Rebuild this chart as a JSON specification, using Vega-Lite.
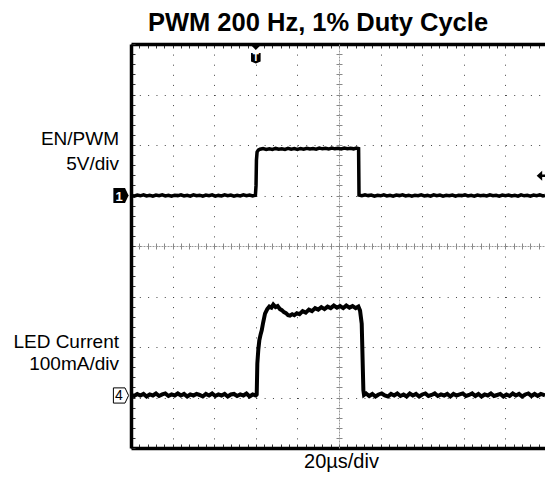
{
  "$schema": "https://vega.github.io/schema/vega-lite/v6.json",
  "width": 414,
  "height": 404,
  "autosize": {"type": "none"},
  "padding": {"left": 131, "top": 44, "right": 0, "bottom": 33},
  "background": "white",
  "title": {"text": "PWM 200 Hz, 1% Duty Cycle", "font": "Liberation Sans", "fontSize": 25.5, "fontWeight": "bold", "color": "black", "anchor": "middle", "frame": "group", "dx": -20, "offset": -13, "baseline": "alphabetic"},
  "config": {"view": {"stroke": null}, "axis": {"labels": false, "ticks": false, "domain": false, "grid": false}},
  "datasets": {
    "ch1": [
      {"t": -60, "v": 0.03}, {"t": -58.5, "v": -0.06}, {"t": -57, "v": 0.05}, {"t": -55.5, "v": -0.03}, {"t": -54, "v": 0.07}, {"t": -52.5, "v": -0.05}, {"t": -51, "v": 0.01}, {"t": -49.5, "v": -0.07}, {"t": -48, "v": 0.04}, {"t": -46.5, "v": -0.02}, {"t": -45, "v": 0.06}, {"t": -43.5, "v": -0.05}, {"t": -42, "v": 0.02}, {"t": -40.5, "v": -0.07}, {"t": -39, "v": 0.03}, {"t": -37.5, "v": -0.01}, {"t": -36, "v": 0.07}, {"t": -34.5, "v": -0.05}, {"t": -33, "v": 0.02}, {"t": -31.5, "v": -0.06}, {"t": -30, "v": 0.06}, {"t": -28.5, "v": -0.03}, {"t": -27, "v": 0.03}, {"t": -25.5, "v": -0.07}, {"t": -24, "v": 0.04}, {"t": -22.5, "v": -0.02}, {"t": -21, "v": 0.06}, {"t": -19.5, "v": -0.06}, {"t": -18, "v": 0.01}, {"t": -16.5, "v": -0.04}, {"t": -15, "v": 0.07}, {"t": -13.5, "v": -0.02}, {"t": -12, "v": 0.05}, {"t": -10.5, "v": -0.06}, {"t": -9, "v": 0.02}, {"t": -7.5, "v": -0.04}, {"t": -6, "v": 0.06}, {"t": -4.5, "v": -0.03}, {"t": -3, "v": 0.04}, {"t": -1.5, "v": -0.05}, {"t": -0.2, "v": 0.03},
      {"t": 0.1, "v": 1.0}, {"t": 0.3, "v": 3.5}, {"t": 0.6, "v": 4.3}, {"t": 1.2, "v": 4.5}, {"t": 2, "v": 4.58},
      {"t": 3.5, "v": 4.65}, {"t": 5, "v": 4.56}, {"t": 6.5, "v": 4.63}, {"t": 8, "v": 4.57}, {"t": 9.5, "v": 4.66}, {"t": 11, "v": 4.58}, {"t": 12.5, "v": 4.63}, {"t": 14, "v": 4.56}, {"t": 15.5, "v": 4.67}, {"t": 17, "v": 4.59}, {"t": 18.5, "v": 4.64}, {"t": 20, "v": 4.57}, {"t": 21.5, "v": 4.66}, {"t": 23, "v": 4.59}, {"t": 24.5, "v": 4.68}, {"t": 26, "v": 4.6}, {"t": 27.5, "v": 4.65}, {"t": 29, "v": 4.59}, {"t": 30.5, "v": 4.69}, {"t": 32, "v": 4.62}, {"t": 33.5, "v": 4.67}, {"t": 35, "v": 4.6}, {"t": 36.5, "v": 4.7}, {"t": 38, "v": 4.62}, {"t": 39.5, "v": 4.67}, {"t": 41, "v": 4.61}, {"t": 42.5, "v": 4.7}, {"t": 44, "v": 4.63}, {"t": 45.5, "v": 4.68}, {"t": 47, "v": 4.62}, {"t": 48.3, "v": 4.7}, {"t": 49.4, "v": 4.65},
      {"t": 49.6, "v": 0.03},
      {"t": 51, "v": -0.03}, {"t": 52.5, "v": 0.06}, {"t": 54, "v": -0.01}, {"t": 55.5, "v": 0.04}, {"t": 57, "v": -0.07}, {"t": 58.5, "v": 0.02}, {"t": 60, "v": -0.03}, {"t": 61.5, "v": 0.07}, {"t": 63, "v": -0.04}, {"t": 64.5, "v": 0.02}, {"t": 66, "v": -0.06}, {"t": 67.5, "v": 0.04}, {"t": 69, "v": -0.01}, {"t": 70.5, "v": 0.06}, {"t": 72, "v": -0.05}, {"t": 73.5, "v": 0.03}, {"t": 75, "v": -0.07}, {"t": 76.5, "v": 0.03}, {"t": 78, "v": -0.02}, {"t": 79.5, "v": 0.06}, {"t": 81, "v": -0.04}, {"t": 82.5, "v": 0.01}, {"t": 84, "v": -0.06}, {"t": 85.5, "v": 0.07}, {"t": 87, "v": -0.02}, {"t": 88.5, "v": 0.04}, {"t": 90, "v": -0.06}, {"t": 91.5, "v": 0.02}, {"t": 93, "v": -0.03}, {"t": 94.5, "v": 0.05}, {"t": 96, "v": -0.07}, {"t": 97.5, "v": 0.03}, {"t": 99, "v": -0.01}, {"t": 100.5, "v": 0.06}, {"t": 102, "v": -0.04}, {"t": 103.5, "v": 0.02}, {"t": 105, "v": -0.06}, {"t": 106.5, "v": 0.05}, {"t": 108, "v": -0.02}, {"t": 109.5, "v": 0.03}, {"t": 111, "v": -0.05}, {"t": 112.5, "v": 0.06}, {"t": 114, "v": -0.03}, {"t": 115.5, "v": 0.02}, {"t": 117, "v": -0.07}, {"t": 118.5, "v": 0.04}, {"t": 120, "v": -0.02}, {"t": 121.5, "v": 0.05}, {"t": 123, "v": -0.05}, {"t": 124.5, "v": 0.01}, {"t": 126, "v": -0.06}, {"t": 127.5, "v": 0.07}, {"t": 129, "v": -0.03}, {"t": 130.5, "v": 0.03}, {"t": 132, "v": -0.06}, {"t": 133.5, "v": 0.04}, {"t": 135, "v": -0.02}, {"t": 136.5, "v": 0.06}, {"t": 138, "v": -0.04}, {"t": 139, "v": 0.01}
    ],
    "ch4": [
      {"t": -60, "i": 6}, {"t": -58.5, "i": 3}, {"t": -57, "i": 7}, {"t": -55.5, "i": 4}, {"t": -54, "i": 7}, {"t": -52.5, "i": 2}, {"t": -51, "i": 6}, {"t": -49.5, "i": 4}, {"t": -48, "i": 8}, {"t": -46.5, "i": 3}, {"t": -45, "i": 6}, {"t": -43.5, "i": 8}, {"t": -42, "i": 3}, {"t": -40.5, "i": 6}, {"t": -39, "i": 4}, {"t": -37.5, "i": 8}, {"t": -36, "i": 4}, {"t": -34.5, "i": 7}, {"t": -33, "i": 2}, {"t": -31.5, "i": 6}, {"t": -30, "i": 4}, {"t": -28.5, "i": 7}, {"t": -27, "i": 5}, {"t": -25.5, "i": 2}, {"t": -24, "i": 7}, {"t": -22.5, "i": 4}, {"t": -21, "i": 8}, {"t": -19.5, "i": 3}, {"t": -18, "i": 6}, {"t": -16.5, "i": 4}, {"t": -15, "i": 7}, {"t": -13.5, "i": 2}, {"t": -12, "i": 6}, {"t": -10.5, "i": 7}, {"t": -9, "i": 3}, {"t": -7.5, "i": 6}, {"t": -6, "i": 4}, {"t": -4.5, "i": 8}, {"t": -3, "i": 2}, {"t": -1.5, "i": 6}, {"t": 0, "i": 4},
      {"t": 0.43, "i": 6}, {"t": 0.72, "i": 67}, {"t": 1.2, "i": 95}, {"t": 1.68, "i": 113}, {"t": 2.3, "i": 125}, {"t": 2.84, "i": 133}, {"t": 3.5, "i": 148}, {"t": 4.42, "i": 166}, {"t": 5.5, "i": 175}, {"t": 6.5, "i": 180}, {"t": 7.5, "i": 178}, {"t": 8.4, "i": 184}, {"t": 9.5, "i": 179}, {"t": 10.5, "i": 181}, {"t": 11.6, "i": 175}, {"t": 12.5, "i": 173}, {"t": 13.5, "i": 169}, {"t": 14.5, "i": 167}, {"t": 15.5, "i": 163}, {"t": 16.4, "i": 162}, {"t": 17.5, "i": 165}, {"t": 18.5, "i": 163}, {"t": 19.7, "i": 167}, {"t": 21, "i": 165}, {"t": 22.5, "i": 171}, {"t": 24, "i": 168}, {"t": 25.5, "i": 174}, {"t": 27, "i": 171}, {"t": 28.5, "i": 177}, {"t": 30, "i": 174}, {"t": 31.5, "i": 179}, {"t": 33, "i": 175}, {"t": 34.5, "i": 180}, {"t": 36, "i": 177}, {"t": 37.5, "i": 182}, {"t": 39, "i": 178}, {"t": 40.5, "i": 181}, {"t": 42, "i": 177}, {"t": 43.5, "i": 182}, {"t": 45, "i": 178}, {"t": 46.5, "i": 181}, {"t": 48, "i": 177}, {"t": 49.3, "i": 180}, {"t": 50.1, "i": 172}, {"t": 50.9, "i": 146}, {"t": 51.7, "i": 14}, {"t": 52, "i": 5},
      {"t": 53, "i": 8}, {"t": 54.5, "i": 3}, {"t": 56, "i": 7}, {"t": 57.5, "i": 2}, {"t": 59, "i": 6}, {"t": 60.5, "i": 8}, {"t": 62, "i": 4}, {"t": 63.5, "i": 2}, {"t": 65, "i": 7}, {"t": 66.5, "i": 4}, {"t": 68, "i": 8}, {"t": 69.5, "i": 3}, {"t": 71, "i": 6}, {"t": 72.5, "i": 2}, {"t": 74, "i": 8}, {"t": 75.5, "i": 4}, {"t": 77, "i": 7}, {"t": 78.5, "i": 2}, {"t": 80, "i": 6}, {"t": 81.5, "i": 8}, {"t": 83, "i": 3}, {"t": 84.5, "i": 5}, {"t": 86, "i": 8}, {"t": 87.5, "i": 3}, {"t": 89, "i": 6}, {"t": 90.5, "i": 4}, {"t": 92, "i": 7}, {"t": 93.5, "i": 2}, {"t": 95, "i": 7}, {"t": 96.5, "i": 4}, {"t": 98, "i": 6}, {"t": 99.5, "i": 8}, {"t": 101, "i": 3}, {"t": 102.5, "i": 5}, {"t": 104, "i": 8}, {"t": 105.5, "i": 3}, {"t": 107, "i": 7}, {"t": 108.5, "i": 2}, {"t": 110, "i": 6}, {"t": 111.5, "i": 4}, {"t": 113, "i": 8}, {"t": 114.5, "i": 3}, {"t": 116, "i": 5}, {"t": 117.5, "i": 7}, {"t": 119, "i": 2}, {"t": 120.5, "i": 6}, {"t": 122, "i": 3}, {"t": 123.5, "i": 8}, {"t": 125, "i": 4}, {"t": 126.5, "i": 7}, {"t": 128, "i": 2}, {"t": 129.5, "i": 6}, {"t": 131, "i": 8}, {"t": 132.5, "i": 3}, {"t": 134, "i": 7}, {"t": 135.5, "i": 3}, {"t": 137, "i": 7}, {"t": 139, "i": 4}
    ],
    "labels1": [{"label": "EN/PWM", "v": 5.0}, {"label": "5V/div", "v": 2.5}],
    "labels4": [{"label": "LED Current", "i": 98}, {"label": "100mA/div", "i": 54}],
    "marker1": [{"label": "1"}],
    "marker4": [{"label": "4"}],
    "trigger": [{"label": "T"}]
  },
  "resolve": {"scale": {"x": "independent", "y": "independent"}, "axis": {"x": "independent", "y": "independent"}},
  "layer": [
    {
      "data": {"name": "ch1"},
      "mark": {"type": "line", "color": "black", "strokeWidth": 3.5, "interpolate": "linear"},
      "encoding": {
        "x": {"field": "t", "type": "quantitative", "scale": {"domain": [-60, 139], "nice": false, "zero": false},
          "axis": {"orient": "bottom", "domain": true, "domainColor": "black", "domainWidth": 3.5, "ticks": true, "tickSize": -4, "tickColor": "#333", "tickWidth": 1,
            "values": [-60,-56,-52,-48,-44,-40,-36,-32,-28,-24,-20,-16,-12,-8,-4,0,4,8,12,16,20,24,28,32,36,40,44,48,52,56,60,64,68,72,76,80,84,88,92,96,100,104,108,112,116,120,124,128,132,136],
            "title": "20µs/div", "titleFont": "Liberation Sans", "titleFontSize": 20, "titleFontWeight": "normal", "titleColor": "black", "titlePadding": 3, "titleBaseline": "top", "titleX": 210}},
        "y": {"field": "v", "type": "quantitative", "scale": {"domain": [-25, 15], "nice": false, "zero": false},
          "axis": {"orient": "left", "domain": true, "domainColor": "black", "domainWidth": 3.5, "ticks": true, "tickSize": -4, "tickColor": "#333", "tickWidth": 1,
            "values": [-25,-24,-23,-22,-21,-20,-19,-18,-17,-16,-15,-14,-13,-12,-11,-10,-9,-8,-7,-6,-5,-4,-3,-2,-1,0,1,2,3,4,5,6,7,8,9,10,11,12,13,14,15], "title": null}}
      }
    },
    {
      "data": {"name": "ch4"},
      "mark": {"type": "line", "color": "black", "strokeWidth": 4, "interpolate": "linear"},
      "encoding": {
        "x": {"field": "t", "type": "quantitative", "scale": {"domain": [-60, 139], "nice": false, "zero": false},
          "axis": {"orient": "top", "domain": true, "domainColor": "black", "domainWidth": 3.5, "ticks": true, "tickSize": -4, "tickColor": "#333", "tickWidth": 1,
            "values": [-60,-56,-52,-48,-44,-40,-36,-32,-28,-24,-20,-16,-12,-8,-4,0,4,8,12,16,20,24,28,32,36,40,44,48,52,56,60,64,68,72,76,80,84,88,92,96,100,104,108,112,116,120,124,128,132,136], "title": null}},
        "y": {"field": "i", "type": "quantitative", "scale": {"domain": [-100, 700], "nice": false, "zero": false},
          "axis": {"orient": "left", "grid": true, "gridColor": "#444", "gridWidth": 1, "gridDash": [1, 7.32], "values": [0, 100, 200, 300, 400, 500, 600], "title": null}}
      }
    },
    {
      "data": {"name": "trigger"},
      "mark": {"type": "point", "shape": "M-1,0 L1,0 L0,1 Z M-0.8,1.5 L0.8,1.5 L0.8,2.9 L0,3.25 L-0.8,2.9 Z", "filled": true, "color": "black", "size": 144, "opacity": 1},
      "encoding": {
        "x": {"datum": 0, "type": "quantitative", "scale": {"domain": [-60, 139], "nice": false, "zero": false},
          "axis": {"orient": "bottom", "grid": true, "gridColor": "#444", "gridWidth": 1, "gridDash": [1, 9.1], "values": [-40, -20, 0, 20, 60, 80, 100, 120], "title": null}},
        "y": {"datum": 15, "type": "quantitative", "scale": {"domain": [-25, 15], "nice": false, "zero": false},
          "axis": {"orient": "left", "offset": -208, "domain": true, "domainColor": "#999", "domainWidth": 1, "domainDash": [2, 1], "ticks": true, "tickSize": 3, "tickColor": "#888", "tickWidth": 1,
            "values": [-24,-23,-22,-21,-20,-19,-18,-17,-16,-15,-14,-13,-12,-11,-10,-9,-8,-7,-6,-5,-4,-3,-2,-1,0,1,2,3,4,5,6,7,8,9,10,11,12,13,14], "title": null}}
      }
    },
    {
      "data": {"name": "trigger"},
      "mark": {"type": "text", "color": "white", "font": "Liberation Sans", "fontSize": 10, "fontWeight": "bold", "baseline": "middle", "align": "center", "dy": 13.5},
      "encoding": {
        "text": {"field": "label"},
        "x": {"datum": 0, "type": "quantitative", "scale": {"domain": [-60, 139], "nice": false, "zero": false},
          "axis": {"orient": "bottom", "offset": -202, "domain": true, "domainColor": "#999", "domainWidth": 1, "domainDash": [2, 1], "ticks": true, "tickSize": 3, "tickColor": "#888", "tickWidth": 1,
            "values": [-56,-52,-48,-44,-40,-36,-32,-28,-24,-20,-16,-12,-8,-4,0,4,8,12,16,20,24,28,32,36,40,44,48,52,56,60,64,68,72,76,80,84,88,92,96,100,104,108,112,116,120,124,128,132,136], "title": null}},
        "y": {"datum": 15, "type": "quantitative", "scale": {"domain": [-25, 15], "nice": false, "zero": false},
          "axis": {"orient": "right", "offset": -206, "domain": false, "ticks": true, "tickSize": 3, "tickColor": "#888", "tickWidth": 1,
            "values": [-24,-23,-22,-21,-20,-19,-18,-17,-16,-15,-14,-13,-12,-11,-10,-9,-8,-7,-6,-5,-4,-3,-2,-1,0,1,2,3,4,5,6,7,8,9,10,11,12,13,14], "title": null}}
      }
    },
    {
      "data": {"name": "labels1"},
      "mark": {"type": "text", "color": "black", "font": "Liberation Sans", "fontSize": 19, "align": "right", "baseline": "alphabetic", "dx": -12},
      "encoding": {
        "text": {"field": "label"},
        "x": {"datum": -60, "type": "quantitative", "scale": {"domain": [-60, 139], "nice": false, "zero": false},
          "axis": {"orient": "top", "offset": -202, "domain": false, "ticks": true, "tickSize": 3, "tickColor": "#888", "tickWidth": 1,
            "values": [-56,-52,-48,-44,-40,-36,-32,-28,-24,-20,-16,-12,-8,-4,0,4,8,12,16,20,24,28,32,36,40,44,48,52,56,60,64,68,72,76,80,84,88,92,96,100,104,108,112,116,120,124,128,132,136], "title": null}},
        "y": {"field": "v", "type": "quantitative", "scale": {"domain": [-25, 15], "nice": false, "zero": false}, "axis": null}
      }
    },
    {
      "data": {"name": "labels4"},
      "mark": {"type": "text", "color": "black", "font": "Liberation Sans", "fontSize": 19, "align": "right", "baseline": "alphabetic", "dx": -12},
      "encoding": {
        "text": {"field": "label"},
        "x": {"datum": -60, "type": "quantitative", "scale": {"domain": [-60, 139], "nice": false, "zero": false}, "axis": null},
        "y": {"field": "i", "type": "quantitative", "scale": {"domain": [-100, 700], "nice": false, "zero": false}, "axis": null}
      }
    },
    {
      "data": {"name": "marker1"},
      "mark": {"type": "point", "shape": "M-2.2,-0.95 L-0.75,-0.95 L-0.3,0 L-0.75,0.95 L-2.2,0.95 Z", "filled": true, "color": "black", "size": 256, "opacity": 1},
      "encoding": {
        "x": {"datum": -60, "type": "quantitative", "scale": {"domain": [-60, 139], "nice": false, "zero": false}, "axis": null},
        "y": {"datum": 0, "type": "quantitative", "scale": {"domain": [-25, 15], "nice": false, "zero": false}, "axis": null}
      }
    },
    {
      "data": {"name": "marker1"},
      "mark": {"type": "text", "color": "white", "font": "Liberation Sans", "fontSize": 13, "fontWeight": "bold", "align": "center", "baseline": "middle", "dx": -12, "dy": 1},
      "encoding": {
        "text": {"field": "label"},
        "x": {"datum": -60, "type": "quantitative", "scale": {"domain": [-60, 139], "nice": false, "zero": false}, "axis": null},
        "y": {"datum": 0, "type": "quantitative", "scale": {"domain": [-25, 15], "nice": false, "zero": false}, "axis": null}
      }
    },
    {
      "data": {"name": "marker4"},
      "mark": {"type": "point", "shape": "M-2.2,-0.95 L-0.75,-0.95 L-0.3,0 L-0.75,0.95 L-2.2,0.95 Z", "filled": true, "fill": "white", "stroke": "black", "strokeWidth": 1, "size": 256, "opacity": 1},
      "encoding": {
        "x": {"datum": -60, "type": "quantitative", "scale": {"domain": [-60, 139], "nice": false, "zero": false}, "axis": null},
        "y": {"datum": 4, "type": "quantitative", "scale": {"domain": [-100, 700], "nice": false, "zero": false}, "axis": null}
      }
    },
    {
      "data": {"name": "marker4"},
      "mark": {"type": "text", "color": "black", "font": "Liberation Sans", "fontSize": 14, "align": "center", "baseline": "middle", "dx": -12, "dy": 1},
      "encoding": {
        "text": {"field": "label"},
        "x": {"datum": -60, "type": "quantitative", "scale": {"domain": [-60, 139], "nice": false, "zero": false}, "axis": null},
        "y": {"datum": 4, "type": "quantitative", "scale": {"domain": [-100, 700], "nice": false, "zero": false}, "axis": null}
      }
    },
    {
      "data": {"name": "trigger"},
      "mark": {"type": "point", "shape": "M0,0 L1.1,-1 L1.1,1 Z M1.1,-0.25 L2.2,-0.25 L2.2,0.25 L1.1,0.25 Z", "filled": true, "color": "black", "size": 100, "opacity": 1},
      "encoding": {
        "x": {"datum": 135, "type": "quantitative", "scale": {"domain": [-60, 139], "nice": false, "zero": false}, "axis": null},
        "y": {"datum": 1.95, "type": "quantitative", "scale": {"domain": [-25, 15], "nice": false, "zero": false}, "axis": null}
      }
    }
  ]
}
